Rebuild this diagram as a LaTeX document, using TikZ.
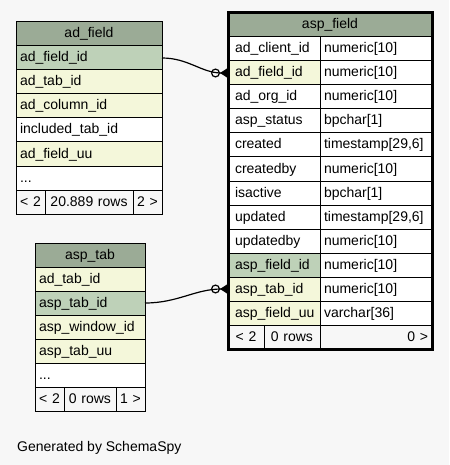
\documentclass[tikz,border=0pt]{standalone}
\usepackage{fontspec}
\setmainfont{Liberation Sans}
\usepackage{tikz}
\usetikzlibrary{arrows.meta,
                positioning}
\definecolor{bg}{HTML}{F7F7F7}
\definecolor{head}{HTML}{9BAB96}
\definecolor{pk}{HTML}{BED1B8}
\definecolor{fk}{HTML}{F4F7DA}
\tikzset{
        base/.style={draw, outer sep=0pt, inner xsep=4pt, inner ysep=0pt,
                     minimum height=24pt, text height=11pt, text depth=3pt,
                     line width=1pt},
        cell/.style={base, fill=white, text width=#1, align=left},
        fkcell/.style={cell=#1, fill=fk},
        pkcell/.style={cell=#1, fill=pk},
        inset/.style={execute at begin node=\hspace*{3pt}},
        headcell/.style={base, fill=head, text width=#1, align=center},
        footcell/.style={base, fill=bg, text width=#1, align=center},
        myarrow/.style={-{Circle[open, length=9pt, width=9pt]
                          Triangle[reversed, length=8pt, width=10pt]},
                        line width=1.2pt},
 }

\begin{document}
\begin{tikzpicture}[x=1pt, y=-1pt, font=\fontsize{14}{16}\selectfont]
    \useasboundingbox (0,0) rectangle (449,465);
    \fill[bg] (0,0) rectangle (449,465);

    % ad_field
    \node[headcell=138pt, anchor=north west] (f0) at (16,22) {ad\_field};
    \node[pkcell=138pt, below=0pt of f0] (f1) {ad\_field\_id};
    \node[fkcell=138pt, below=0pt of f1] (f2) {ad\_tab\_id};
    \node[fkcell=138pt, below=0pt of f2] (f3) {ad\_column\_id};
    \node[cell=138pt, below=0pt of f3] (f4) {included\_tab\_id};
    \node[fkcell=138pt, below=0pt of f4] (f5) {ad\_field\_uu};
    \node[cell=138pt, below=0pt of f5] (f6) {...};
    \node[footcell=21pt, anchor=north west] (f7) at (f6.south west) {< 2};
    \node[footcell=80pt, right=0pt of f7] (f8) {20.889 rows};
    \node[footcell=21pt, right=0pt of f8] (f9) {2 >};

    % asp_tab
    \node[headcell=102pt, anchor=north west] (t0) at (35,243) {asp\_tab};
    \node[fkcell=102pt, below=0pt of t0] (t1) {ad\_tab\_id};
    \node[pkcell=102pt, below=0pt of t1] (t2) {asp\_tab\_id};
    \node[fkcell=102pt, below=0pt of t2] (t3) {asp\_window\_id};
    \node[fkcell=102pt, below=0pt of t3] (t4) {asp\_tab\_uu};
    \node[cell=102pt, below=0pt of t4] (t5) {...};
    \node[footcell=21pt, anchor=north west] (t6) at (t5.south west) {< 2};
    \node[footcell=44pt, right=0pt of t6] (t7) {0 rows};
    \node[footcell=21pt, right=0pt of t7] (t8) {1 >};

    % asp_field
    \node[headcell=196pt, anchor=north west] (p0) at (228,13) {asp\_field};
    \node[cell=84pt, inset, anchor=north west] (p1) at (p0.south west) {ad\_client\_id};
    \node[fkcell=84pt, inset, below=0pt of p1] (p2) {ad\_field\_id};
    \node[cell=84pt, inset, below=0pt of p2] (p3) {ad\_org\_id};
    \node[cell=84pt, inset, below=0pt of p3] (p4) {asp\_status};
    \node[cell=84pt, inset, below=0pt of p4] (p5) {created};
    \node[cell=84pt, inset, below=0pt of p5] (p6) {createdby};
    \node[cell=84pt, inset, below=0pt of p6] (p7) {isactive};
    \node[cell=84pt, inset, below=0pt of p7] (p8) {updated};
    \node[cell=84pt, inset, below=0pt of p8] (p9) {updatedby};
    \node[pkcell=84pt, inset, below=0pt of p9] (p10) {asp\_field\_id};
    \node[fkcell=84pt, inset, below=0pt of p10] (p11) {asp\_tab\_id};
    \node[fkcell=84pt, inset, below=0pt of p11] (p12) {asp\_field\_uu};
    \node[footcell=28pt, anchor=north west] (p13) at (p12.south west) {< 2};
    \node[footcell=48pt, right=0pt of p13] (p14) {0 rows};

    \node[cell=104pt, right=0pt of p1] (q1) {numeric[10]};
    \node[cell=104pt, right=0pt of p2] (q2) {numeric[10]};
    \node[cell=104pt, right=0pt of p3] (q3) {numeric[10]};
    \node[cell=104pt, right=0pt of p4] (q4) {bpchar[1]};
    \node[cell=104pt, right=0pt of p5] (q5) {timestamp[29,6]};
    \node[cell=104pt, right=0pt of p6] (q6) {numeric[10]};
    \node[cell=104pt, right=0pt of p7] (q7) {bpchar[1]};
    \node[cell=104pt, right=0pt of p8] (q8) {timestamp[29,6]};
    \node[cell=104pt, right=0pt of p9] (q9) {numeric[10]};
    \node[cell=104pt, right=0pt of p10] (q10) {numeric[10]};
    \node[cell=104pt, right=0pt of p11] (q11) {numeric[10]};
    \node[cell=104pt, right=0pt of p12] (q12) {varchar[36]};
    \node[footcell=104pt, align=right, right=0pt of p14] (q13) {0 >};

    \draw[line width=3pt] (p0.north west) rectangle (q13.south east);

    \draw[myarrow] (f1.east) to[out=0, in=180] (p2.west);
    \draw[myarrow] (t2.east) to[out=0, in=180] (p11.west);

    \node[anchor=base west, inner sep=0pt] (gen) at (17,451) {Generated by SchemaSpy};
\end{tikzpicture}
\end{document}
